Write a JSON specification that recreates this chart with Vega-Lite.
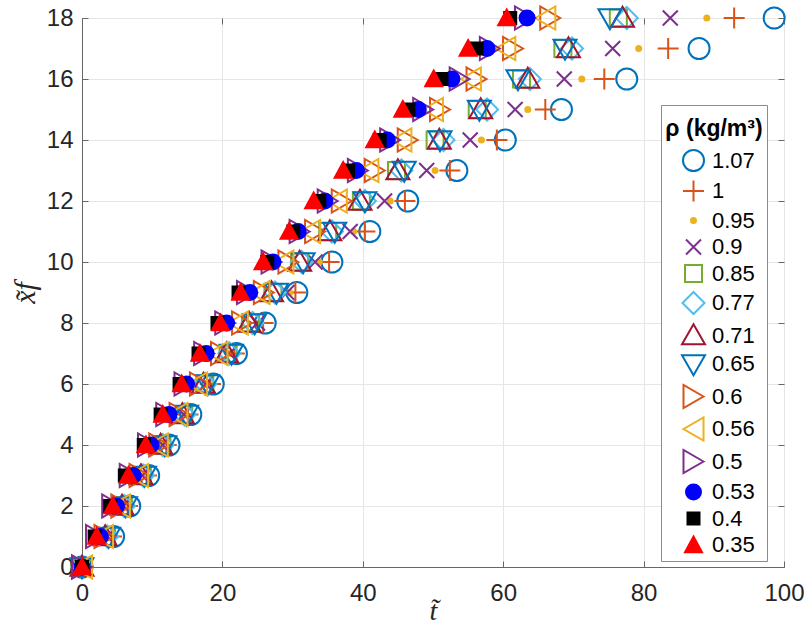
{
  "$schema": "https://vega.github.io/schema/vega-lite/v6.json",
  "width": 702,
  "height": 549,
  "autosize": {"type": "none"},
  "padding": {"left": 82, "top": 18, "right": 20, "bottom": 66},
  "background": "white",
  "data": {"values": [
    {"rho":"1.07","t":0,"xf":0},{"rho":"1.07","t":4.5,"xf":1},{"rho":"1.07","t":6.8,"xf":2},{"rho":"1.07","t":9.5,"xf":3},{"rho":"1.07","t":12.4,"xf":4},{"rho":"1.07","t":15.5,"xf":5},{"rho":"1.07","t":18.7,"xf":6},{"rho":"1.07","t":22.0,"xf":7},{"rho":"1.07","t":26.1,"xf":8},{"rho":"1.07","t":30.6,"xf":9},{"rho":"1.07","t":35.6,"xf":10},{"rho":"1.07","t":41.0,"xf":11},{"rho":"1.07","t":46.4,"xf":12},{"rho":"1.07","t":53.4,"xf":13},{"rho":"1.07","t":60.3,"xf":14},{"rho":"1.07","t":68.3,"xf":15},{"rho":"1.07","t":77.6,"xf":16},{"rho":"1.07","t":87.9,"xf":17},{"rho":"1.07","t":98.6,"xf":18},
    {"rho":"1","t":0,"xf":0},{"rho":"1","t":4.2,"xf":1},{"rho":"1","t":6.5,"xf":2},{"rho":"1","t":9.2,"xf":3},{"rho":"1","t":12.0,"xf":4},{"rho":"1","t":15.1,"xf":5},{"rho":"1","t":18.3,"xf":6},{"rho":"1","t":21.7,"xf":7},{"rho":"1","t":25.8,"xf":8},{"rho":"1","t":30.4,"xf":9},{"rho":"1","t":35.2,"xf":10},{"rho":"1","t":40.3,"xf":11},{"rho":"1","t":46.0,"xf":12},{"rho":"1","t":52.4,"xf":13},{"rho":"1","t":59.1,"xf":14},{"rho":"1","t":66.0,"xf":15},{"rho":"1","t":74.4,"xf":16},{"rho":"1","t":83.5,"xf":17},{"rho":"1","t":92.9,"xf":18},
    {"rho":"0.95","t":0,"xf":0},{"rho":"0.95","t":3.8,"xf":1},{"rho":"0.95","t":6.0,"xf":2},{"rho":"0.95","t":8.7,"xf":3},{"rho":"0.95","t":11.6,"xf":4},{"rho":"0.95","t":14.6,"xf":5},{"rho":"0.95","t":17.7,"xf":6},{"rho":"0.95","t":21.1,"xf":7},{"rho":"0.95","t":25.2,"xf":8},{"rho":"0.95","t":29.6,"xf":9},{"rho":"0.95","t":33.8,"xf":10},{"rho":"0.95","t":38.7,"xf":11},{"rho":"0.95","t":43.9,"xf":12},{"rho":"0.95","t":50.3,"xf":13},{"rho":"0.95","t":56.9,"xf":14},{"rho":"0.95","t":63.5,"xf":15},{"rho":"0.95","t":71.2,"xf":16},{"rho":"0.95","t":79.3,"xf":17},{"rho":"0.95","t":89.0,"xf":18},
    {"rho":"0.9","t":0,"xf":0},{"rho":"0.9","t":3.6,"xf":1},{"rho":"0.9","t":5.9,"xf":2},{"rho":"0.9","t":8.6,"xf":3},{"rho":"0.9","t":11.5,"xf":4},{"rho":"0.9","t":14.5,"xf":5},{"rho":"0.9","t":17.6,"xf":6},{"rho":"0.9","t":21.0,"xf":7},{"rho":"0.9","t":25.0,"xf":8},{"rho":"0.9","t":29.2,"xf":9},{"rho":"0.9","t":33.2,"xf":10},{"rho":"0.9","t":38.2,"xf":11},{"rho":"0.9","t":43.1,"xf":12},{"rho":"0.9","t":49.1,"xf":13},{"rho":"0.9","t":55.3,"xf":14},{"rho":"0.9","t":61.7,"xf":15},{"rho":"0.9","t":68.7,"xf":16},{"rho":"0.9","t":75.6,"xf":17},{"rho":"0.9","t":83.8,"xf":18},
    {"rho":"0.85","t":0,"xf":0},{"rho":"0.85","t":3.5,"xf":1},{"rho":"0.85","t":5.9,"xf":2},{"rho":"0.85","t":8.6,"xf":3},{"rho":"0.85","t":11.4,"xf":4},{"rho":"0.85","t":14.5,"xf":5},{"rho":"0.85","t":17.5,"xf":6},{"rho":"0.85","t":20.8,"xf":7},{"rho":"0.85","t":24.0,"xf":8},{"rho":"0.85","t":27.2,"xf":9},{"rho":"0.85","t":31.0,"xf":10},{"rho":"0.85","t":35.0,"xf":11},{"rho":"0.85","t":39.8,"xf":12},{"rho":"0.85","t":44.8,"xf":13},{"rho":"0.85","t":50.3,"xf":14},{"rho":"0.85","t":56.3,"xf":15},{"rho":"0.85","t":62.6,"xf":16},{"rho":"0.85","t":68.5,"xf":17},{"rho":"0.85","t":76.4,"xf":18},
    {"rho":"0.77","t":0,"xf":0},{"rho":"0.77","t":3.6,"xf":1},{"rho":"0.77","t":6.0,"xf":2},{"rho":"0.77","t":8.7,"xf":3},{"rho":"0.77","t":11.5,"xf":4},{"rho":"0.77","t":14.6,"xf":5},{"rho":"0.77","t":17.6,"xf":6},{"rho":"0.77","t":21.0,"xf":7},{"rho":"0.77","t":24.3,"xf":8},{"rho":"0.77","t":27.5,"xf":9},{"rho":"0.77","t":31.3,"xf":10},{"rho":"0.77","t":35.6,"xf":11},{"rho":"0.77","t":40.3,"xf":12},{"rho":"0.77","t":45.5,"xf":13},{"rho":"0.77","t":51.5,"xf":14},{"rho":"0.77","t":57.7,"xf":15},{"rho":"0.77","t":63.8,"xf":16},{"rho":"0.77","t":69.8,"xf":17},{"rho":"0.77","t":77.6,"xf":18},
    {"rho":"0.71","t":0,"xf":0},{"rho":"0.71","t":3.3,"xf":1},{"rho":"0.71","t":5.7,"xf":2},{"rho":"0.71","t":8.4,"xf":3},{"rho":"0.71","t":11.2,"xf":4},{"rho":"0.71","t":14.3,"xf":5},{"rho":"0.71","t":17.3,"xf":6},{"rho":"0.71","t":20.6,"xf":7},{"rho":"0.71","t":23.8,"xf":8},{"rho":"0.71","t":27.0,"xf":9},{"rho":"0.71","t":31.0,"xf":10},{"rho":"0.71","t":35.3,"xf":11},{"rho":"0.71","t":39.6,"xf":12},{"rho":"0.71","t":45.0,"xf":13},{"rho":"0.71","t":50.9,"xf":14},{"rho":"0.71","t":56.8,"xf":15},{"rho":"0.71","t":63.5,"xf":16},{"rho":"0.71","t":69.3,"xf":17},{"rho":"0.71","t":77.0,"xf":18},
    {"rho":"0.65","t":0,"xf":0},{"rho":"0.65","t":3.8,"xf":1},{"rho":"0.65","t":6.2,"xf":2},{"rho":"0.65","t":8.9,"xf":3},{"rho":"0.65","t":11.8,"xf":4},{"rho":"0.65","t":14.9,"xf":5},{"rho":"0.65","t":17.9,"xf":6},{"rho":"0.65","t":21.3,"xf":7},{"rho":"0.65","t":24.6,"xf":8},{"rho":"0.65","t":27.7,"xf":9},{"rho":"0.65","t":31.5,"xf":10},{"rho":"0.65","t":36.0,"xf":11},{"rho":"0.65","t":40.3,"xf":12},{"rho":"0.65","t":45.9,"xf":13},{"rho":"0.65","t":51.0,"xf":14},{"rho":"0.65","t":56.6,"xf":15},{"rho":"0.65","t":62.1,"xf":16},{"rho":"0.65","t":68.8,"xf":17},{"rho":"0.65","t":75.2,"xf":18},
    {"rho":"0.6","t":0,"xf":0},{"rho":"0.6","t":3.2,"xf":1},{"rho":"0.6","t":5.6,"xf":2},{"rho":"0.6","t":8.2,"xf":3},{"rho":"0.6","t":11.0,"xf":4},{"rho":"0.6","t":13.9,"xf":5},{"rho":"0.6","t":16.8,"xf":6},{"rho":"0.6","t":19.8,"xf":7},{"rho":"0.6","t":22.8,"xf":8},{"rho":"0.6","t":25.9,"xf":9},{"rho":"0.6","t":29.4,"xf":10},{"rho":"0.6","t":33.2,"xf":11},{"rho":"0.6","t":37.0,"xf":12},{"rho":"0.6","t":41.7,"xf":13},{"rho":"0.6","t":46.4,"xf":14},{"rho":"0.6","t":51.0,"xf":15},{"rho":"0.6","t":56.2,"xf":16},{"rho":"0.6","t":61.4,"xf":17},{"rho":"0.6","t":66.7,"xf":18},
    {"rho":"0.56","t":0,"xf":0},{"rho":"0.56","t":3.0,"xf":1},{"rho":"0.56","t":5.4,"xf":2},{"rho":"0.56","t":8.0,"xf":3},{"rho":"0.56","t":10.8,"xf":4},{"rho":"0.56","t":13.6,"xf":5},{"rho":"0.56","t":16.4,"xf":6},{"rho":"0.56","t":19.3,"xf":7},{"rho":"0.56","t":22.2,"xf":8},{"rho":"0.56","t":25.3,"xf":9},{"rho":"0.56","t":28.7,"xf":10},{"rho":"0.56","t":32.5,"xf":11},{"rho":"0.56","t":36.3,"xf":12},{"rho":"0.56","t":40.8,"xf":13},{"rho":"0.56","t":45.5,"xf":14},{"rho":"0.56","t":50.0,"xf":15},{"rho":"0.56","t":55.4,"xf":16},{"rho":"0.56","t":60.3,"xf":17},{"rho":"0.56","t":66.0,"xf":18},
    {"rho":"0.5","t":0,"xf":0},{"rho":"0.5","t":2.0,"xf":1},{"rho":"0.5","t":4.3,"xf":2},{"rho":"0.5","t":6.8,"xf":3},{"rho":"0.5","t":9.4,"xf":4},{"rho":"0.5","t":12.0,"xf":5},{"rho":"0.5","t":14.6,"xf":6},{"rho":"0.5","t":17.4,"xf":7},{"rho":"0.5","t":20.4,"xf":8},{"rho":"0.5","t":23.5,"xf":9},{"rho":"0.5","t":27.0,"xf":10},{"rho":"0.5","t":31.0,"xf":11},{"rho":"0.5","t":35.0,"xf":12},{"rho":"0.5","t":39.3,"xf":13},{"rho":"0.5","t":43.9,"xf":14},{"rho":"0.5","t":48.6,"xf":15},{"rho":"0.5","t":53.8,"xf":16},{"rho":"0.5","t":58.1,"xf":17},{"rho":"0.5","t":63.1,"xf":18},
    {"rho":"0.53","t":0,"xf":0},{"rho":"0.53","t":2.6,"xf":1},{"rho":"0.53","t":4.9,"xf":2},{"rho":"0.53","t":7.3,"xf":3},{"rho":"0.53","t":9.8,"xf":4},{"rho":"0.53","t":12.4,"xf":5},{"rho":"0.53","t":14.9,"xf":6},{"rho":"0.53","t":17.7,"xf":7},{"rho":"0.53","t":20.6,"xf":8},{"rho":"0.53","t":23.9,"xf":9},{"rho":"0.53","t":27.2,"xf":10},{"rho":"0.53","t":30.8,"xf":11},{"rho":"0.53","t":34.6,"xf":12},{"rho":"0.53","t":39.1,"xf":13},{"rho":"0.53","t":43.5,"xf":14},{"rho":"0.53","t":47.9,"xf":15},{"rho":"0.53","t":52.7,"xf":16},{"rho":"0.53","t":57.7,"xf":17},{"rho":"0.53","t":63.4,"xf":18},
    {"rho":"0.4","t":0,"xf":0},{"rho":"0.4","t":1.8,"xf":1},{"rho":"0.4","t":4.0,"xf":2},{"rho":"0.4","t":6.1,"xf":3},{"rho":"0.4","t":8.8,"xf":4},{"rho":"0.4","t":11.2,"xf":5},{"rho":"0.4","t":13.9,"xf":6},{"rho":"0.4","t":16.6,"xf":7},{"rho":"0.4","t":19.3,"xf":8},{"rho":"0.4","t":22.3,"xf":9},{"rho":"0.4","t":26.4,"xf":10},{"rho":"0.4","t":30.1,"xf":11},{"rho":"0.4","t":33.8,"xf":12},{"rho":"0.4","t":37.9,"xf":13},{"rho":"0.4","t":42.4,"xf":14},{"rho":"0.4","t":46.5,"xf":15},{"rho":"0.4","t":51.2,"xf":16},{"rho":"0.4","t":56.2,"xf":17},{"rho":"0.4","t":61.0,"xf":18},
    {"rho":"0.35","t":0,"xf":0},{"rho":"0.35","t":2.1,"xf":1},{"rho":"0.35","t":4.4,"xf":2},{"rho":"0.35","t":6.6,"xf":3},{"rho":"0.35","t":9.1,"xf":4},{"rho":"0.35","t":11.5,"xf":5},{"rho":"0.35","t":14.2,"xf":6},{"rho":"0.35","t":16.8,"xf":7},{"rho":"0.35","t":19.7,"xf":8},{"rho":"0.35","t":22.6,"xf":9},{"rho":"0.35","t":25.8,"xf":10},{"rho":"0.35","t":29.5,"xf":11},{"rho":"0.35","t":33.0,"xf":12},{"rho":"0.35","t":37.2,"xf":13},{"rho":"0.35","t":41.7,"xf":14},{"rho":"0.35","t":45.7,"xf":15},{"rho":"0.35","t":50.1,"xf":16},{"rho":"0.35","t":55.0,"xf":17},{"rho":"0.35","t":60.5,"xf":18}
  ]},
  "layer": [
    {
      "mark": {"type": "point", "size": 625, "strokeWidth": 2, "opacity": 1},
      "encoding": {
        "x": {"field": "t", "type": "quantitative", "scale": {"domain": [0, 100], "nice": false, "zero": false},
          "axis": {"title": "t̃", "values": [0, 20, 40, 60, 80, 100], "labelPadding": 20, "titlePadding": -8, "titleFontSize": 28, "labelFlush": false}},
        "y": {"field": "xf", "type": "quantitative", "scale": {"domain": [0, 18], "nice": false, "zero": false},
          "axis": {"title": "x̃f", "values": [0, 2, 4, 6, 8, 10, 12, 14, 16, 18], "labelPadding": 15, "titlePadding": 6}},
        "shape": {"field": "rho", "type": "nominal",
          "scale": {"domain": ["1.07","1","0.95","0.9","0.85","0.77","0.71","0.65","0.6","0.56","0.5","0.53","0.4","0.35"],
            "range": [
              "M0.84,0A0.84,0.84 0 1,1 -0.84,0A0.84,0.84 0 1,1 0.84,0Z",
              "M-0.84,0L0.84,0M0,-0.84L0,0.84",
              "M0.2,0A0.2,0.2 0 1,1 -0.2,0A0.2,0.2 0 1,1 0.2,0Z",
              "M-0.6,-0.6L0.6,0.6M-0.6,0.6L0.6,-0.6",
              "M-0.68,-0.68L0.68,-0.68L0.68,0.68L-0.68,0.68Z",
              "M0,-0.88L0.88,0L0,0.88L-0.88,0Z",
              "M0,-0.9L0.92,0.7L-0.92,0.7Z",
              "M0,0.9L0.92,-0.7L-0.92,-0.7Z",
              "M0.8,0L-0.8,-0.92L-0.8,0.92Z",
              "M-0.8,0L0.8,-0.92L0.8,0.92Z",
              "M0.8,0L-0.8,-0.92L-0.8,0.92Z",
              "M0.6,0A0.6,0.6 0 1,1 -0.6,0A0.6,0.6 0 1,1 0.6,0Z",
              "M-0.48,-0.48L0.48,-0.48L0.48,0.48L-0.48,0.48Z",
              "M0,-0.68L0.68,0.58L-0.68,0.58Z"
            ]},
          "legend": {"title": ["", "ρ (kg/m³)"]}},
        "stroke": {"field": "rho", "type": "nominal",
          "scale": {"domain": ["1.07","1","0.95","0.9","0.85","0.77","0.71","0.65","0.6","0.56","0.5","0.53","0.4","0.35"],
            "range": ["#0072BD","#D95319","#EDB120","#7E2F8E","#77AC30","#4DBEEE","#A2142F","#0072BD","#D95319","#EDB120","#7E2F8E","#0000FF","#000000","#FF0000"]},
          "legend": {"title": ["", "ρ (kg/m³)"]}},
        "fill": {"field": "rho", "type": "nominal",
          "scale": {"domain": ["1.07","1","0.95","0.9","0.85","0.77","0.71","0.65","0.6","0.56","0.5","0.53","0.4","0.35"],
            "range": ["transparent","transparent","#EDB120","transparent","transparent","transparent","transparent","transparent","transparent","transparent","transparent","#0000FF","#000000","#FF0000"]},
          "legend": {"title": ["", "ρ (kg/m³)"]}}
      }
    },
    {
      "mark": {"type": "point", "opacity": 0, "size": 1},
      "encoding": {
        "x": {"field": "t", "type": "quantitative",
          "axis": {"orient": "top", "title": null, "labels": false, "grid": false, "domain": false, "values": [0, 20, 40, 60, 80, 100]}},
        "y": {"field": "xf", "type": "quantitative",
          "axis": {"orient": "right", "title": null, "labels": false, "grid": false, "domain": false, "values": [0, 2, 4, 6, 8, 10, 12, 14, 16, 18]}}
      }
    }
  ],
  "resolve": {"axis": {"x": "independent", "y": "independent"}},
  "config": {
    "font": "Liberation Sans",
    "view": {"stroke": "#666666", "strokeWidth": 1},
    "axis": {
      "domainColor": "#666666", "tickColor": "#666666", "tickSize": -6,
      "gridColor": "#e6e6e6", "gridWidth": 1,
      "labelColor": "#262626", "labelFontSize": 24, "labelFont": "Liberation Sans",
      "titleFont": "Liberation Serif", "titleFontStyle": "italic", "titleFontWeight": "normal",
      "titleFontSize": 30, "titleColor": "#262626"
    },
    "legend": {
      "orient": "none", "legendX": 579, "legendY": 87,
      "padding": 4, "symbolOffset": 6, "symbolSize": 625, "symbolStrokeWidth": 2,
      "labelFontSize": 22, "labelOffset": 5, "labelColor": "#000000", "labelLimit": 300,
      "rowPadding": 1.5,
      "titleFontSize": 23, "titleFontWeight": "bold", "titleColor": "#000000",
      "titleLineHeight": 9, "titleAnchor": "middle", "titlePadding": 6, "titleLimit": 300,
      "fillColor": "white", "strokeColor": "#8c8c8c"
    }
  }
}
